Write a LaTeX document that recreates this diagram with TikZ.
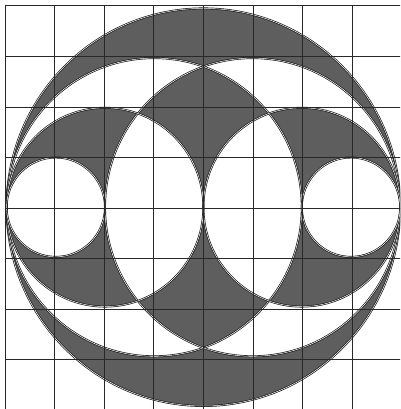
\documentclass[tikz,border=0pt]{standalone}
\begin{document}
\begin{tikzpicture}[x=1pt,y=1pt,
  shaded/.style={fill={rgb,255:red,94;green,94;blue,94}, even odd rule},
  outline/.style={draw={rgb,255:red,25;green,25;blue,25}, line width=0.7pt, double=white, double distance=0.5pt},
  gridline/.style={draw={rgb,255:red,40;green,40;blue,40}, line width=1pt}]
\useasboundingbox (0,0) rectangle (400,409);
\clip (0,0) rectangle (400,409);
\fill[white] (0,0) rectangle (400,409);
\begin{scope}[shift={(203.4,201.8)}, xscale=49.2, yscale=49.7]
  \path[shaded] (0,0) circle (4) (-1,0) circle (3) (1,0) circle (3)
    (-2,0) circle (2) (2,0) circle (2) (-3,0) circle (1) (3,0) circle (1);
  \foreach \c/\r in {0/4,-1/3,1/3,-2/2,2/2,-3/1,3/1}
    \draw[outline] (\c,0) circle (\r);
\end{scope}
\foreach \i in {0,...,8}
  \draw[gridline] ({5+49.6*\i},403) -- ({5+49.6*\i},-2);
\foreach \j in {0,...,8}
  \draw[gridline] (5,{403-50.57*\j}) -- (402,{403-50.57*\j});
\end{tikzpicture}
\end{document}
